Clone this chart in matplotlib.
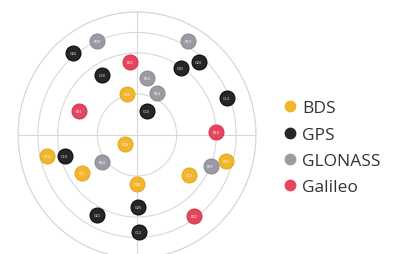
import matplotlib
matplotlib.use('Agg')
import matplotlib.pyplot as plt
import numpy as np

# satellite sky positions: azimuth (deg, clockwise from N) and elevation (deg)
bds_az = [346, 234, 257, 236, 180, 127, 106]
bds_el = [59, 79, 20, 40, 54, 41, 20]
bds_prn = ['C06', 'C09', 'C14', 'C11', 'C16', 'C13', 'C12']

gps_az = [321, 329, 23, 34, 41, 68, 254, 207, 179, 179]
gps_el = [13, 39, 71, 31, 19, 17, 33, 24, 37, 19]
gps_prn = ['G26', 'G16', 'G10', 'G32', 'G20', 'G14', 'G18', 'G22', 'G25', 'G12']

glo_az = [336, 29, 10, 26, 233, 112]
glo_el = [15, 11, 48, 56, 57, 30]
glo_prn = ['R09', 'R13', 'R15', 'R14', 'R24', 'R07']

gal_az = [354, 292, 88, 144]
gal_el = [36, 43, 30, 17]
gal_prn = ['E02', 'E11', 'E24', 'E12']

systems = ['BDS', 'GPS', 'GLONASS', 'Galileo']
colors = ['#F2B52E', '#262626', '#9B9BA3', '#E5465E']
edges = ['#E5A820', '#0a0a0a', '#8a8a92', '#D43850']

ring_zenith = [30, 60, 75, 90]

fig = plt.figure(figsize=(3.96, 2.55), dpi=100)
ax = fig.add_axes([0.0455, -0.0157, 0.601, 0.965], projection='polar')
ax.set_aspect('auto')
ax.set_theta_zero_location('N')
ax.set_theta_direction(-1)
ax.set_rlim(0, 90)
ax.set_rticks(ring_zenith)
ax.set_thetagrids([0, 90, 180, 270])
ax.set_xticklabels([])
ax.set_yticklabels([])
ax.tick_params(length=0)
ax.grid(True, color='#d8d8d8', linewidth=0.8)
ax.spines['polar'].set_color('#d8d8d8')
ax.spines['polar'].set_linewidth(0.8)

data = [(bds_az, bds_el, bds_prn), (gps_az, gps_el, gps_prn),
        (glo_az, glo_el, glo_prn), (gal_az, gal_el, gal_prn)]

handles = []
for (az, el, prn), name, c, ec in zip(data, systems, colors, edges):
    th = np.radians(az)
    r = 90 - np.array(el)
    ax.scatter(th, r, s=115, color=c, edgecolors=ec, linewidths=0.8, zorder=5)
    for t, rr, p in zip(th, r, prn):
        ax.text(t, rr, p, fontsize=2.5, color='#dddddd' if name == 'GPS' else '#ffffff',
                ha='center', va='center', zorder=6)
    handles.append(plt.Line2D([], [], marker='o', linestyle='', markersize=7.5,
                              markerfacecolor=c, markeredgecolor=c, label=name))

fig.legend(handles=handles, loc='center left', bbox_to_anchor=(0.667, 0.417),
           frameon=False, handletextpad=0.1, labelspacing=0.58, handlelength=1.2,
           prop={'family': 'Open Sans', 'size': 12.5}, labelcolor='#333333')

fig.savefig('out.png', dpi=100)
